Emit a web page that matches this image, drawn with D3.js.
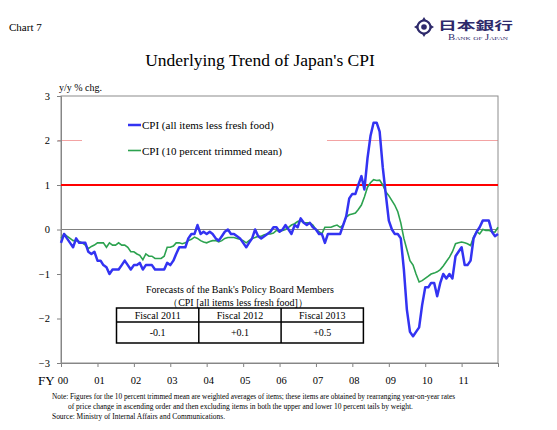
<!DOCTYPE html>
<html>
<head>
<meta charset="utf-8">
<script src="https://cdn.jsdelivr.net/npm/d3@7"></script>
<style>
  body { margin: 0; background: #fff; }
  svg { display: block; font-family: "Liberation Serif", "Times New Roman", serif; }
</style>
</head>
<body>
<div id="chart"></div>
<script>
// monthly y/y % chg., Jan 2000 .. Jan 2012
var cpiCore = [
  -0.3, -0.1, -0.2, -0.3, -0.4, -0.2, -0.3, -0.3, -0.3, -0.5, -0.55, -0.5,
  -0.7, -0.7, -0.8, -0.85, -1.0, -0.9, -0.9, -0.9, -0.8, -0.7, -0.8, -0.9,
  -0.8, -0.8, -0.75, -0.9, -0.8, -0.8, -0.8, -0.9, -0.9, -0.9, -0.9, -0.75,
  -0.8, -0.7, -0.55, -0.4, -0.4, -0.4, -0.2, -0.1, -0.1, 0.1, -0.1, -0.05,
  -0.1, -0.05, -0.1, -0.2, -0.25, -0.15, -0.05, 0.0, -0.1, -0.1, -0.15, -0.2,
  -0.3, -0.4, -0.3, -0.2, 0.0, -0.15, -0.2, -0.15, -0.1, -0.05, 0.05, 0.05,
  -0.05, 0.0, 0.1, 0.0, -0.1, 0.1, 0.05, 0.25, 0.15, 0.1, 0.15, 0.05,
  0.0, -0.1, -0.1, -0.3, -0.1, -0.1, -0.1, -0.1, -0.1, 0.1, 0.3, 0.7,
  0.8, 0.8, 1.0, 1.2, 0.9, 1.6, 2.1, 2.4, 2.4, 2.2, 1.4, 0.8,
  0.2, 0.0, -0.1, -0.1, -0.2, -0.9, -1.8, -2.3, -2.4, -2.3, -2.2, -1.7,
  -1.3, -1.3, -1.2, -1.2, -1.5, -1.2, -1.0, -1.1, -1.0, -1.1, -0.6, -0.5,
  -0.4, -0.8, -0.8, -0.7, -0.2, -0.05, 0.05, 0.2, 0.2, 0.2, -0.05, -0.15,
  -0.1
];
var cpiTrimmed = [
  -0.2, -0.1, -0.15, -0.2, -0.25, -0.25, -0.27, -0.3, -0.35, -0.43, -0.38, -0.35,
  -0.3, -0.3, -0.3, -0.4, -0.3, -0.35, -0.35, -0.3, -0.35, -0.35, -0.4, -0.5,
  -0.5, -0.55, -0.58, -0.68, -0.55, -0.6, -0.6, -0.65, -0.65, -0.65, -0.6, -0.4,
  -0.4, -0.37, -0.3, -0.3, -0.32, -0.3, -0.25, -0.22, -0.17, -0.2, -0.25, -0.28,
  -0.3, -0.27, -0.25, -0.25, -0.28, -0.25, -0.2, -0.18, -0.18, -0.18, -0.2, -0.22,
  -0.25, -0.3, -0.25, -0.2, -0.18, -0.15, -0.15, -0.12, -0.1, -0.1, -0.08, -0.02,
  -0.05, -0.02, 0.0, 0.05, 0.1, 0.13, 0.18, 0.2, 0.15, 0.15, 0.15, 0.1,
  0.0, -0.05, -0.1, 0.05, 0.05, 0.05, 0.08, 0.1, 0.05, 0.1, 0.28, 0.33,
  0.35, 0.37, 0.45, 0.55, 0.73, 0.95, 1.05, 1.12, 1.1, 1.11, 1.0, 0.85,
  0.76, 0.65, 0.55, 0.4, 0.15, -0.2, -0.45, -0.7, -0.8, -1.0, -1.18, -1.15,
  -1.1, -1.05, -1.0, -0.98, -0.95, -0.9, -0.82, -0.72, -0.62, -0.5, -0.32, -0.3,
  -0.28, -0.3, -0.32, -0.36, -0.17, -0.05, -0.1, 0.0, -0.02, -0.02, -0.05, -0.06,
  0.05
];
var yearLabels = ["00", "01", "02", "03", "04", "05", "06", "07", "08", "09", "10", "11"];
var yTicks = [-3, -2, -1, 0, 1, 2, 3];
var seriesNames = ["CPI (all items less fresh food)", "CPI (10 percent trimmed mean)"];
var forecastYears = ["Fiscal 2011", "Fiscal 2012", "Fiscal 2013"];
var forecastValues = ["-0.1", "+0.1", "+0.5"];

var W = 557, H = 430;
var plot = {left: 61, right: 498, top: 96, bottom: 363};
var blue = "#3333f2", green = "#2ca24f", navy = "#2e2a6b";

var svg = d3.select("#chart").append("svg")
	.attr("width", W)
	.attr("height", H);

var months = d3.timeMonth.range(new Date(2000, 0, 1), new Date(2012, 1, 1));
var x = d3.scaleTime()
	.domain([new Date(2000, 0, 1), new Date(2012, 0, 1)])
	.range([plot.left, plot.right]);
var y = d3.scaleLinear()
	.domain([-3, 3])
	.range([plot.bottom, plot.top]);

// header
svg.append("text").attr("x", 9).attr("y", 31)
	.attr("font-size", 11).text("Chart 7");
svg.append("text").attr("x", 260).attr("y", 66)
	.attr("text-anchor", "middle").attr("font-size", 17.5)
	.text("Underlying Trend of Japan's CPI");

// logo
var logo = svg.append("g").attr("transform", "translate(424,27)");
logo.append("path")
	.attr("d", "M0,-10 L2.5,-6 L-2.5,-6 Z M0,10 L2.5,6 L-2.5,6 Z M-10,0 L-6,2.5 L-6,-2.5 Z M10,0 L6,2.5 L6,-2.5 Z")
	.attr("fill", navy);
logo.append("circle").attr("r", 6.5).attr("fill", "none")
	.attr("stroke", navy).attr("stroke-width", 2.2);
logo.append("circle").attr("r", 2.8).attr("fill", navy);
svg.append("text").attr("x", 438).attr("y", 30)
	.attr("font-family", "'Noto Sans CJK JP'").attr("font-weight", "bold")
	.attr("font-size", 11.5).attr("fill", navy)
	.attr("textLength", 75).attr("lengthAdjust", "spacingAndGlyphs")
	.text("日本銀行");
svg.append("text").attr("x", 448).attr("y", 40)
	.attr("font-size", 7.5).attr("font-variant", "small-caps").attr("fill", navy)
	.attr("textLength", 60).attr("lengthAdjust", "spacingAndGlyphs")
	.text("Bank of Japan");

// reference lines
svg.append("line")
	.attr("x1", plot.left - 3).attr("x2", plot.right)
	.attr("y1", y(2)).attr("y2", y(2))
	.attr("stroke", "#f3a3a3").attr("stroke-width", 1);
svg.append("line")
	.attr("x1", plot.left).attr("x2", plot.right)
	.attr("y1", y(0)).attr("y2", y(0))
	.attr("stroke", "#808080").attr("stroke-width", 1);

// axes
var yAxis = svg.append("g")
	.attr("transform", "translate(" + plot.left + ",0)")
	.call(d3.axisLeft(y).tickValues(yTicks).tickSize(4).tickPadding(7)
		.tickFormat(d3.format("d")));
var xAxis = svg.append("g")
	.attr("transform", "translate(0," + plot.bottom + ")")
	.call(d3.axisBottom(x)
		.tickValues(yearLabels.map(function(d, i) { return new Date(2000 + i, 0, 1); }).concat([new Date(2012, 0, 1)]))
		.tickSize(4).tickPadding(10)
		.tickFormat(function(d, i) { return yearLabels[i] || ""; }));
[yAxis, xAxis].forEach(function(a) {
	a.selectAll("path.domain").attr("stroke", "#808080");
	a.selectAll(".tick line").attr("stroke", "#808080");
	a.selectAll(".tick text").attr("font-family", "Liberation Serif")
		.attr("font-size", 10.5).attr("fill", "#000");
});
xAxis.selectAll(".tick text").attr("dx", 1.5);
svg.append("rect")
	.attr("x", plot.left).attr("y", plot.top)
	.attr("width", plot.right - plot.left).attr("height", plot.bottom - plot.top)
	.attr("fill", "none").attr("stroke", "#8c8c8c").attr("stroke-width", 1);
svg.append("text").attr("x", 38).attr("y", 385)
	.attr("font-size", 13).text("FY");
svg.append("text").attr("x", 59).attr("y", 91)
	.attr("font-size", 10).text("y/y % chg.");

// legend (white box hides the 2% line behind it)
var legend = svg.append("g");
legend.append("rect").attr("x", 82).attr("y", 114)
	.attr("width", 245).attr("height", 46).attr("fill", "#fff");
[blue, green].forEach(function(c, i) {
	var ly = 125 + i * 25.5;
	legend.append("line").attr("x1", 128).attr("x2", 141)
		.attr("y1", ly).attr("y2", ly)
		.attr("stroke", c).attr("stroke-width", i == 0 ? 2.5 : 1.6);
	legend.append("text").attr("x", 142).attr("y", ly + 4)
		.attr("font-size", 11).text(seriesNames[i]);
});

// 1% line
svg.append("line")
	.attr("x1", plot.left).attr("x2", plot.right)
	.attr("y1", y(1)).attr("y2", y(1))
	.attr("stroke", "#ff0000").attr("stroke-width", 2);

// series
var line = d3.line()
	.x(function(d, i) { return x(months[i]); })
	.y(function(d) { return y(d); });
svg.append("path").datum(cpiTrimmed)
	.attr("d", line).attr("fill", "none")
	.attr("stroke", green).attr("stroke-width", 1.6);
svg.append("path").datum(cpiCore)
	.attr("d", line).attr("fill", "none")
	.attr("stroke", blue).attr("stroke-width", 2.5)
	.attr("stroke-linejoin", "round");

// forecast table
var tbl = {left: 116.5, top: 308, colW: 82.3, rowH: [14, 21]};
svg.append("text").attr("x", 240).attr("y", 293)
	.attr("text-anchor", "middle").attr("font-size", 10)
	.text("Forecasts of the Bank's Policy Board Members");
svg.append("text").attr("x", 238).attr("y", 306)
	.attr("text-anchor", "middle").attr("font-size", 10)
	.text("（CPI [all items less fresh food]）");
var tg = svg.append("g");
tg.append("rect").attr("x", tbl.left).attr("y", tbl.top)
	.attr("width", tbl.colW * 3).attr("height", tbl.rowH[0] + tbl.rowH[1])
	.attr("fill", "#fff").attr("stroke", "#000").attr("stroke-width", 1.5);
tg.append("line").attr("x1", tbl.left).attr("x2", tbl.left + tbl.colW * 3)
	.attr("y1", tbl.top + tbl.rowH[0]).attr("y2", tbl.top + tbl.rowH[0])
	.attr("stroke", "#000").attr("stroke-width", 1.5);
forecastYears.forEach(function(fy, i) {
	var cx = tbl.left + tbl.colW * (i + 0.5);
	if (i > 0)
		tg.append("line").attr("x1", tbl.left + tbl.colW * i).attr("x2", tbl.left + tbl.colW * i)
			.attr("y1", tbl.top).attr("y2", tbl.top + tbl.rowH[0] + tbl.rowH[1])
			.attr("stroke", "#000").attr("stroke-width", 1.5);
	tg.append("text").attr("x", cx).attr("y", tbl.top + 11)
		.attr("text-anchor", "middle").attr("font-size", 10).text(fy);
	tg.append("text").attr("x", cx).attr("y", tbl.top + tbl.rowH[0] + 14)
		.attr("text-anchor", "middle").attr("font-size", 10).text(forecastValues[i]);
});

// notes
var notes = [
	{x: 52, y: 399, w: 403, t: "Note: Figures for the 10 percent trimmed mean are weighted averages of items; these items are obtained by rearranging year-on-year rates"},
	{x: 68, y: 409, w: 345, t: "of price change in ascending order and then excluding items in both the upper and lower 10 percent tails by weight."},
	{x: 52, y: 418.5, w: 173, t: "Source: Ministry of Internal Affairs and Communications."}
];
svg.selectAll("text.note").data(notes).enter().append("text")
	.attr("class", "note")
	.attr("x", function(d) { return d.x; })
	.attr("y", function(d) { return d.y; })
	.attr("font-size", 7.5)
	.attr("textLength", function(d) { return d.w; })
	.attr("lengthAdjust", "spacingAndGlyphs")
	.text(function(d) { return d.t; });
</script>
</body>
</html>
